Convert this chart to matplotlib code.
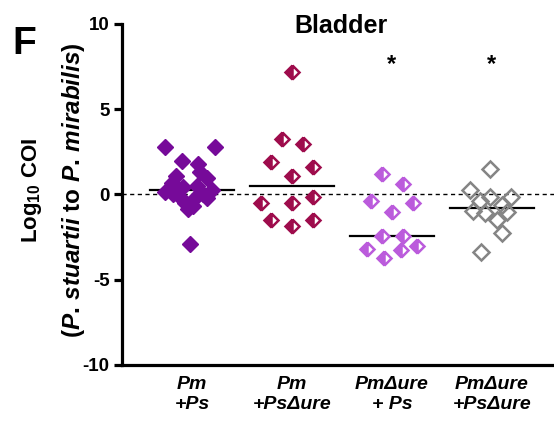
import numpy as np
import matplotlib
matplotlib.use("Agg")
import matplotlib.pyplot as plt

plt.rcParams['font.family'] = ['Liberation Sans', 'DejaVu Sans']
plt.rcParams['mathtext.fontset'] = 'custom'
plt.rcParams['mathtext.rm'] = 'Liberation Sans:bold'
plt.rcParams['mathtext.it'] = 'Liberation Sans:bold:italic'
plt.rcParams['mathtext.bf'] = 'Liberation Sans:bold'

# data (log10 COI), x jitter in category units
groups = ["Pm\n+Ps", "Pm\n+Ps\u0394ure", "Pm\u0394ure\n+ Ps", "Pm\u0394ure\n+Ps\u0394ure"]

pm_ps = [2.76, 2.76, 1.94, 1.76, 1.29, 0.94, 1.11, 0.70, 0.41, 0.47, 0.29,
         0.12, 0.0, -0.12, 0.0, -0.18, -0.18, -0.47, -0.70, -0.88, -2.93]
pm_ps_jit = [-0.27, 0.23, -0.10, 0.06, 0.08, 0.15, -0.16, -0.20, -0.09, 0.05, 0.20,
             -0.27, -0.19, -0.12, 0.11, 0.03, 0.15, -0.07, 0.01, -0.04, -0.02]

pm_psure = [7.21, 3.28, 2.99, 1.88, 1.64, 1.06, -0.47, -0.47, -0.12, -1.47, -1.82, -1.52]
pm_psure_jit = [0.0, -0.10, 0.11, -0.21, 0.21, 0.0, -0.31, 0.0, 0.21, -0.21, 0.0, 0.21]

pmure_ps = [1.23, 0.59, -0.41, -0.47, -1.00, -2.46, -2.46, -3.17, -3.70, -3.28, -3.05]
pmure_ps_jit = [-0.10, 0.11, -0.21, 0.21, 0.0, -0.10, 0.11, -0.25, -0.08, 0.09, 0.25]

pmure_psure = [1.52, 0.29, -0.12, -0.12, -0.41, -0.59, -0.94, -1.11, -1.00, -1.47, -2.23, -3.40]
pmure_psure_jit = [-0.02, -0.22, -0.02, 0.19, -0.12, 0.10, -0.19, -0.07, 0.15, 0.05, 0.10, -0.11]

series = [pm_ps, pm_psure, pmure_ps, pmure_psure]
jitters = [pm_ps_jit, pm_psure_jit, pmure_ps_jit, pmure_psure_jit]
colors = ['#760a99', '#9e0c4c', '#bb5bdc', '#858585']
fills = ['full', 'left', 'left', 'none']
signif = ["", "", "*", "*"]

fig = plt.figure(figsize=(5.54, 4.24), dpi=100)
ax = fig.add_axes([0.2202, 0.1392, 0.7798, 0.8042])

ax.axhline(0, color='black', lw=1.0, ls=(0, (3, 2.5)), zorder=1)

for i, (vals, jit) in enumerate(zip(series, jitters)):
    xpos = i + 1 + np.array(jit)
    if fills[i] == 'full':
        ax.plot(xpos, vals, 'D', ms=8, color=colors[i], mec=colors[i], mew=1.0, zorder=3)
    elif fills[i] == 'left':
        ax.plot(xpos, vals, 'D', ms=7.5, fillstyle='left', color=colors[i],
                markerfacecoloralt='white', mec=colors[i], mew=1.8, zorder=3)
    else:
        ax.plot(xpos, vals, 'D', ms=7.8, mfc='none', mec=colors[i], mew=1.8, zorder=3)
    med = np.median(vals)
    ax.plot([i + 1 - 0.42, i + 1 + 0.42], [med, med], color='black', lw=1.6, zorder=2)
    if signif[i]:
        ax.text(i + 1, 7.6, signif[i], ha='center', va='center', fontsize=17, fontweight='bold')

ax.set_xlim(0.3, 4.62)
ax.set_ylim(-10, 10)
ax.set_yticks([-10, -5, 0, 5, 10])
ax.set_yticklabels(['-10', '-5', '0', '5', '10'], fontsize=13.5, fontweight='bold')
ax.set_xticks([1, 2, 3, 4])
ax.set_xticklabels(groups, fontsize=14, fontweight='bold', style='italic', linespacing=1.2)

for s in ['top', 'right']:
    ax.spines[s].set_visible(False)
for s in ['left', 'bottom']:
    ax.spines[s].set_linewidth(2.3)
ax.tick_params(axis='y', length=6, width=2.3, pad=3)
ax.tick_params(axis='x', length=0, pad=8)

ax.text(2.49, 9.9, "Bladder", fontsize=18, fontweight='bold', ha='center', va='center')

fig.text(0.058, 0.552, r"Log$_{10}$ COI", rotation=90, ha='center', va='center',
         fontsize=16, fontweight='bold')
fig.text(0.132, 0.552, r"($\mathit{P.\,stuartii}$ to $\mathit{P.\,mirabilis}$)", rotation=90,
         ha='center', va='center', fontsize=17.5, fontweight='bold')
fig.text(0.022, 0.897, "F", fontsize=28, fontweight='bold', ha='left', va='center')

fig.savefig("out.png", dpi=100)
